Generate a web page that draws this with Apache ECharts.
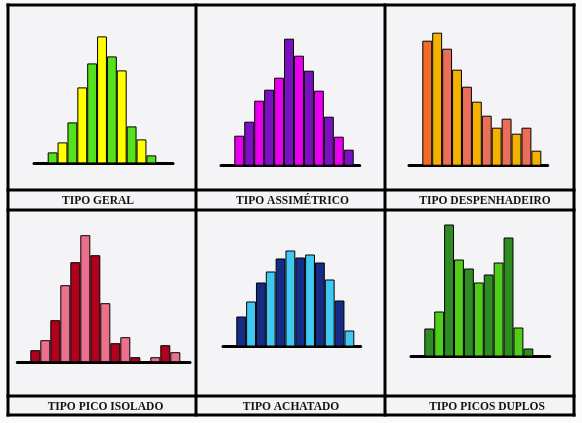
<!DOCTYPE html>
<html><head><meta charset="utf-8">
<script src="https://cdn.jsdelivr.net/npm/echarts@6/dist/echarts.min.js"></script>
<style>html,body{margin:0;padding:0;background:#fafafa}#c{width:582px;height:423px}</style>
</head><body><div id="c"></div><script>
// ---- data (bar heights, arbitrary units) ----
const titles = ['TIPO GERAL', 'TIPO ASSIMÉTRICO', 'TIPO DESPENHADEIRO', 'TIPO PICO ISOLADO', 'TIPO ACHATADO', 'TIPO PICOS DUPLOS'];
const geral = [11, 21, 41, 76, 100, 127, 107, 93, 37, 24, 8];
const assimetrico = [30, 44, 65, 76, 88, 127, 110, 95, 75, 49, 29, 16];
const despenhadeiro = [125, 133, 117, 96, 79, 64, 50, 38, 47, 32, 38, 15];
const picoIsolado = [12, 22, 42, 77, 100, 127, 107, 59, 19, 25, 5, 0, 5, 17, 10];
const achatado = [30, 45, 64, 75, 88, 96, 89, 92, 84, 67, 46, 16];
const picosDuplos = [28, 45, 132, 97, 88, 74, 82, 94, 119, 29, 8];

// ---- styles / layout ----
const palettes = [
  ['#55e21a', '#ffff00'],
  ['#e800ee', '#7a10c0'],
  null,
  null,
  ['#142c86', '#40c8f2'],
  ['#2f8c22', '#50cc1a']
];
const despColors = ['#f06c26', '#f4b100', '#ea6e58', '#f4b100', '#ea6e58', '#f4b100', '#ea6e58', '#f4b100', '#ea6e58', '#f4b100', '#ea6e58', '#f4b100'];
const DR = '#b0001c', PK = '#ec6f8b';
const picoColors = [DR, PK, DR, PK, DR, PK, DR, PK, DR, PK, DR, DR, PK, DR, PK];
// axisLeft, axisRight, barsLeft, barsRight, baselineY, labelX, labelY
const layout = [
  [34, 173, 47.7, 156.3, 163.4, 98, 201],
  [221, 359.7, 234.3, 353.7, 165.7, 292.5, 201],
  [409, 547.7, 422.3, 541.3, 165.7, 485, 201],
  [17.3, 190, 30.3, 180.3, 362.2, 105.5, 407.5],
  [223, 360.7, 236.3, 354.3, 346.5, 291, 407.5],
  [411, 549.7, 424.3, 533.3, 356.5, 487, 407.5]
];
const seriesData = [geral, assimetrico, despenhadeiro, picoIsolado, achatado, picosDuplos];
const H = 140;

function colorFor(k, i) {
  if (k === 2) return despColors[i];
  if (k === 3) return picoColors[i];
  return palettes[k][i % 2];
}

const grids = [], xAxes = [], yAxes = [], series = [];
seriesData.forEach((vals, k) => {
  const [aL, aR, bL, bR, base] = layout[k];
  const n = vals.length;
  const unit = (bR - bL) / n;
  grids.push({left: aL, top: base - H, width: aR - aL, height: H});
  xAxes.push({
    gridIndex: k, type: 'value',
    min: -0.5 - (bL - aL) / unit, max: n - 0.5 + (aR - bR) / unit,
    axisLine: {show: true, onZero: false, lineStyle: {color: '#000', width: 3}},
    axisTick: {show: false}, axisLabel: {show: false}, splitLine: {show: false}
  });
  yAxes.push({gridIndex: k, type: 'value', min: 0, max: H, show: false, splitLine: {show: false}});
  series.push({
    type: 'bar', xAxisIndex: k, yAxisIndex: k, barWidth: unit,
    data: vals.map((v, i) => ({
      value: [i, v],
      itemStyle: {color: colorFor(k, i), borderWidth: v === 0 ? 0 : 1}
    })),
    itemStyle: {borderColor: '#000', borderWidth: 1},
    silent: true, animation: false
  });
});

const graphics = [];
graphics.push({type: 'rect', z: -10, shape: {x: 8, y: 5, width: 566, height: 410}, style: {fill: '#f4f4f7'}});
const lw = 3;
[8, 196, 385, 574].forEach(x => graphics.push({type: 'rect', z: 100, shape: {x: x - 1.5, y: 3.5, width: lw, height: 413}, style: {fill: '#000'}}));
[5, 190, 210, 396, 415].forEach(y => graphics.push({type: 'rect', z: 100, shape: {x: 6.5, y: y - 1.5, width: 569, height: lw}, style: {fill: '#000'}}));
titles.forEach((t, k) => graphics.push({
  type: 'text', z: 100, x: layout[k][5], y: layout[k][6],
  style: {text: t, fill: '#111', font: 'bold 11.5px "Liberation Serif", "DejaVu Serif", serif', textAlign: 'center', textVerticalAlign: 'middle'}
}));

const chart = echarts.init(document.getElementById('c'));
chart.setOption({
  backgroundColor: '#fafafa',
  animation: false,
  grid: grids, xAxis: xAxes, yAxis: yAxes, series: series,
  graphic: graphics
});
</script></body></html>
